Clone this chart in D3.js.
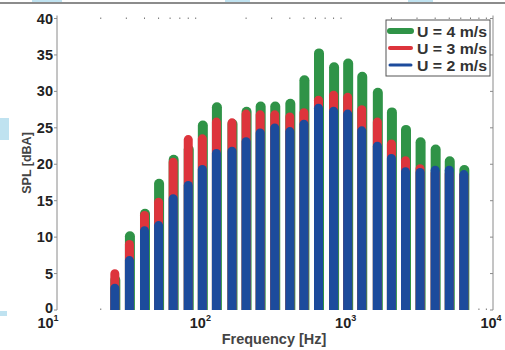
<!DOCTYPE html>
<html>
<head>
<meta charset="utf-8">
<script src="https://cdn.jsdelivr.net/npm/d3@7"></script>
<style>
  body { margin: 0; background: #fff; }
  svg { font-family: "Liberation Sans", Arial, sans-serif; }
</style>
</head>
<body>
<div id="chart"></div>
<script>
// third-octave band centres [Hz]
const bands = [25, 31.5, 40, 50, 63, 80, 100, 125, 160, 200, 250, 315, 400, 500,
  630, 800, 1000, 1250, 1600, 2000, 2500, 3150, 4000, 5000, 6300];
// SPL [dBA] per wind speed
const splU4 = [4.8, 10.8, 13.9, 18.0, 21.3, 22.7, 26.0, 28.5, 26.2, 27.9, 28.6, 28.6, 29.0, 32.2,
  35.9, 34.0, 34.5, 32.7, 30.5, 27.8, 25.4, 23.7, 22.7, 21.1, 19.9];
const splU3 = [5.6, 9.6, 13.6, 15.4, 20.9, 24.0, 24.1, 26.4, 26.3, 27.5, 27.4, 27.4, 27.1, 27.7,
  29.4, 30.1, 29.8, 28.1, 26.4, 23.4, 21.1, 20.0, 19.4, 19.3, 19.0];
const splU2 = [3.6, 7.4, 11.5, 12.2, 15.9, 17.7, 19.9, 22.1, 22.4, 23.7, 24.9, 25.6, 25.1, 26.1,
  28.3, 27.9, 27.5, 25.2, 23.1, 21.4, 19.6, 19.5, 19.8, 19.8, 19.2];
const yTicks = [0, 5, 10, 15, 20, 25, 30, 35, 40];
const xDecades = [10, 100, 1000, 10000];

const series = [
  { name: 'U = 4 m/s', values: splU4, color: '#2f9347' },
  { name: 'U = 3 m/s', values: splU3, color: '#dd343c' },
  { name: 'U = 2 m/s', values: splU2, color: '#1c4b9c' }
];

const W = 505, H = 350;
const m = { left: 57, right: 12, top: 18.5, bottom: 40 };

const svg = d3.select('#chart').append('svg').attr('width', W).attr('height', H);

// scan artefacts: border line and pale blue smudges
svg.append('line').attr('x1', 0).attr('x2', W).attr('y1', 3).attr('y2', 3)
  .attr('stroke', '#666').attr('stroke-width', 1.5);
[[0, 118, 9, 22], [0, 311, 7, 5], [32, 0, 30, 2], [225, 0, 25, 2], [408, 0, 25, 2]].forEach(([x, y, w, h]) => {
  svg.append('rect').attr('x', x).attr('y', y).attr('width', w).attr('height', h).attr('fill', '#bfe2f0');
});

const x = d3.scaleLog().domain([10, 10000]).range([m.left, W - m.right]);
const y = d3.scaleLinear().domain([0, 40]).range([H - m.bottom, m.top]);

// bars: green behind, red, blue in front
const barW = 9;
const g = svg.append('g');
series.forEach((s, si) => {
  g.append('g').selectAll('path')
    .data(s.values.map((v, i) => ({ f: bands[i], v })))
    .join('path')
    .attr('fill', s.color)
    .attr('d', d => {
      const w = si === 0 ? barW + 1 : barW;
      const x0 = x(d.f) - barW / 2, y0 = y(d.v), y1 = y(0), r = w / 2;
      return `M${x0},${y1}V${y0 + r}A${r},${r} 0 0 1 ${x0 + w},${y0 + r}V${y1}Z`;
    });
});

// axes lines
const axisCol = '#8a8a8a';
svg.append('line').attr('x1', m.left).attr('x2', m.left).attr('y1', m.top - 3).attr('y2', y(0))
  .attr('stroke', axisCol).attr('stroke-width', 1);
svg.append('line').attr('x1', W - m.right).attr('x2', W - m.right).attr('y1', m.top - 3).attr('y2', y(0))
  .attr('stroke', axisCol).attr('stroke-width', 1);

// faint minor ticks along top and bottom edges
const minor = [];
[10, 100, 1000].forEach(d => { for (let k = 2; k <= 9; k++) minor.push(d * k); });
svg.append('g').selectAll('rect.top').data(minor).join('rect')
  .attr('x', d => x(d) - 0.5).attr('y', m.top - 1).attr('width', 1).attr('height', 1.5)
  .attr('fill', '#777');
svg.append('g').selectAll('rect.bot').data(minor.filter(d => d < 25 || d > 7000)).join('rect')
  .attr('x', d => x(d) - 0.5).attr('y', y(0) - 1.5).attr('width', 1).attr('height', 1.5)
  .attr('fill', '#777');

// y ticks, labels
const yAxis = svg.append('g');
yAxis.selectAll('line.l').data(yTicks).join('line')
  .attr('x1', m.left - 3).attr('x2', m.left).attr('y1', d => y(d)).attr('y2', d => y(d))
  .attr('stroke', axisCol);
yAxis.selectAll('line.r').data(yTicks).join('line')
  .attr('x1', W - m.right - 3).attr('x2', W - m.right).attr('y1', d => y(d)).attr('y2', d => y(d))
  .attr('stroke', axisCol);
yAxis.selectAll('text').data(yTicks).join('text')
  .attr('x', m.left - 4).attr('y', d => y(d) + (d === 0 ? 3 : 5))
  .attr('text-anchor', 'end').attr('font-size', 14.5).attr('font-weight', 'bold').attr('fill', '#222')
  .text(d => d);

// x decade labels 10^n
const xl = svg.append('g');
xDecades.forEach(d => {
  const t = xl.append('text').attr('x', x(d) + (d === 10 ? -9 : -2)).attr('y', 328)
    .attr('text-anchor', 'middle').attr('font-size', 14.5).attr('font-weight', 'bold').attr('fill', '#222');
  t.append('tspan').text('10');
  t.append('tspan').attr('dy', -7).attr('font-size', 9).text(Math.round(Math.log10(d)));
});

// axis titles
svg.append('text').attr('x', 274).attr('y', 344).attr('text-anchor', 'middle')
  .attr('font-size', 14.5).attr('font-weight', 'bold').attr('fill', '#444')
  .text('Frequency [Hz]');
svg.append('text').attr('transform', 'translate(31,163) rotate(-90)').attr('text-anchor', 'middle')
  .attr('font-size', 12.5).attr('font-weight', 'bold').attr('fill', '#444')
  .text('SPL [dBA]');

// legend
const lg = svg.append('g').attr('transform', 'translate(386,20)');
lg.append('rect').attr('width', 104).attr('height', 56)
  .attr('fill', '#fff').attr('stroke', '#555').attr('stroke-width', 1);
series.forEach((s, i) => {
  const ly = 11 + i * 17;
  lg.append('line').attr('x1', 4).attr('x2', 25).attr('y1', ly).attr('y2', ly)
    .attr('stroke', s.color).attr('stroke-linecap', 'round')
    .attr('stroke-width', [6, 4, 3][i]);
  lg.append('text').attr('x', 31).attr('y', ly + 5.5)
    .attr('font-size', 15.5).attr('font-weight', 'bold').attr('fill', '#333')
    .attr('textLength', 70).attr('lengthAdjust', 'spacingAndGlyphs')
    .text(s.name);
});
</script>
</body>
</html>
